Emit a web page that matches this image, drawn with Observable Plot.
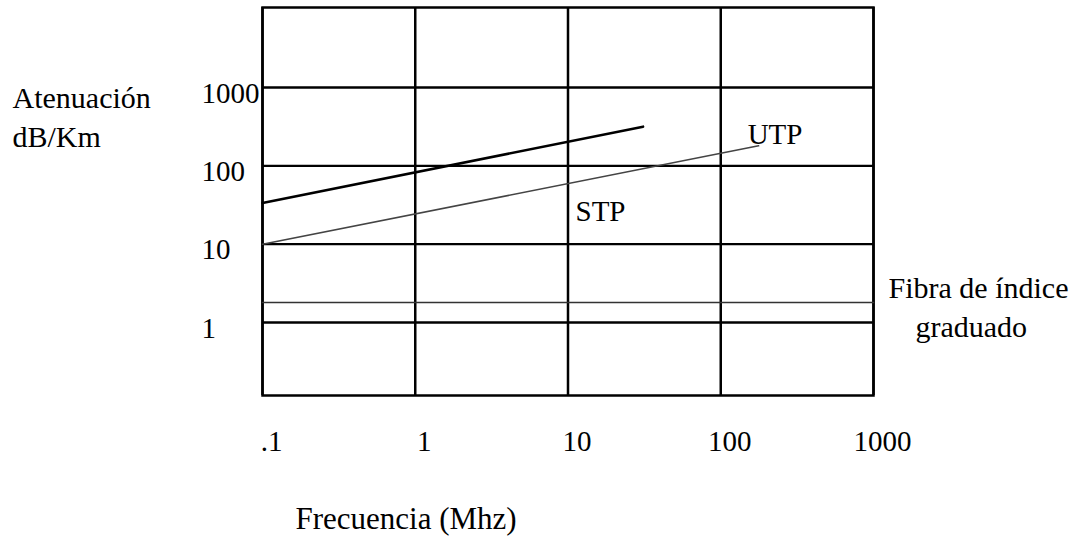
<!DOCTYPE html>
<html><head><meta charset="utf-8">
<script src="https://cdn.jsdelivr.net/npm/d3@7"></script>
<script src="https://cdn.jsdelivr.net/npm/@observablehq/plot@0.6"></script>
<style>body{margin:0;background:#fff}</style>
</head><body><div id="chart"></div>
<script>
// Tick values and labels
const xTicks = [0.1, 1, 10, 100, 1000];
const xTickLabels = [".1", "1", "10", "100", "1000"];
const yTicks = [1000, 100, 10, 1];
const yTickLabels = ["1000", "100", "10", "1"];

// Series (frequency in MHz, attenuation in dB/Km)
const upperFreq = [0.1, 31];
const upperAtt = [33.6, 316];
const lowerFreq = [0.1, 177];
const lowerAtt = [10, 180];
const fiberFreq = [0.1, 1000];
const fiberAtt = [1.8, 1.8];

// In-chart series labels
const seriesLabels = ["UTP", "STP"];
const seriesLabelFreq = [150, 11.2];
const seriesLabelAtt = [249, 25.6];

const zip = (xs, ys) => xs.map((x, i) => ({x, y: ys[i]}));
const upper = zip(upperFreq, upperAtt);
const lower = zip(lowerFreq, lowerAtt);
const fiber = zip(fiberFreq, fiberAtt);
const xLab = xTicks.map((v, i) => ({v, t: xTickLabels[i]}));
const yLab = yTicks.map((v, i) => ({v, t: yTickLabels[i]}));
const sLab = seriesLabels.map((t, i) => ({t, x: seriesLabelFreq[i], y: seriesLabelAtt[i]}));

const font = "Liberation Serif, Times New Roman, serif";

const chart = Plot.plot({
  width: 1083,
  height: 540,
  marginLeft: 262,
  marginRight: 210,
  marginTop: 7,
  marginBottom: 145,
  style: {fontFamily: font, background: "white", color: "black"},
  x: {type: "log", domain: [0.1, 1000], axis: null},
  y: {type: "log", domain: [0.117, 10500], axis: null},
  marks: [
    Plot.ruleY(yTicks, {stroke: "black", strokeWidth: 2.3}),
    Plot.ruleX(xTicks, {stroke: "black", strokeWidth: 2.5}),
    Plot.frame({stroke: "black", strokeWidth: 2.5}),
    Plot.line(fiber, {x: "x", y: "y", stroke: "#333", strokeWidth: 1.6}),
    Plot.line(upper, {x: "x", y: "y", stroke: "black", strokeWidth: 2.6}),
    Plot.line(lower, {x: "x", y: "y", stroke: "#444", strokeWidth: 1.5}),
    Plot.text(sLab, {x: "x", y: "y", text: "t", textAnchor: "start", fontSize: 29, fill: "black"}),
    Plot.text(yLab, {y: "v", text: "t", frameAnchor: "left", textAnchor: "start", dx: -61, dy: 6, fontSize: 29, fill: "black"}),
    Plot.text(xLab, {x: "v", text: "t", frameAnchor: "bottom", dx: 9, dy: 55, fontSize: 29, fill: "black"}),
    Plot.text(["Atenuación\ndB/Km"], {frameAnchor: "top-left", textAnchor: "start", lineAnchor: "top", lineHeight: 1.3, dx: -250, dy: 73, fontSize: 30, fill: "black"}),
    Plot.text(["Frecuencia (Mhz)"], {frameAnchor: "bottom-left", textAnchor: "start", lineAnchor: "top", dx: 33, dy: 111, fontSize: 31, fill: "black"}),
    Plot.text(["Fibra de índice"], {frameAnchor: "top-right", textAnchor: "start", lineAnchor: "top", dx: 15, dy: 269, fontSize: 30, fill: "black"}),
    Plot.text(["graduado"], {frameAnchor: "top-right", textAnchor: "start", lineAnchor: "top", dx: 42, dy: 308, fontSize: 30, fill: "black"})
  ]
});
document.getElementById("chart").appendChild(chart);
</script>
</body></html>
